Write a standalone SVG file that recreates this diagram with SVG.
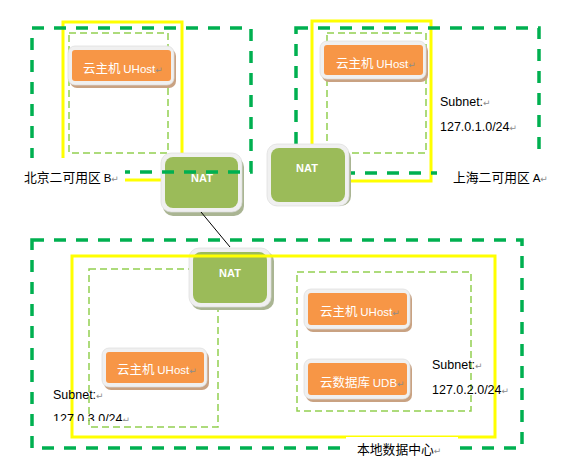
<svg xmlns="http://www.w3.org/2000/svg" width="569" height="457" viewBox="0 0 569 457">
<style>
.gz{fill:none;stroke:#00b050;stroke-width:3.5;stroke-dasharray:12 10}
.yl{fill:none;stroke:#ffff00;stroke-width:3}
.sn{fill:none;stroke:#92d050;stroke-width:1.5;stroke-dasharray:7 4}
.fr{fill:#f0f0f0;stroke:#dcdcdc;stroke-width:0.7}
.osh{fill:#c9a282}
.or{fill:#f79646}
.nsh{fill:#aab593}
.ng{fill:#9bbb59}
.ot{font-family:"Noto Sans CJK SC",sans-serif;font-size:12.5px;fill:#fff}
.en{font-family:"Liberation Sans",sans-serif;font-size:11.5px}
.pm{fill:#8c8c8c;font-family:"DejaVu Sans",sans-serif;font-size:9px}
.nt{font-family:"Liberation Sans",sans-serif;font-weight:bold;font-size:11px;fill:#fff;text-anchor:middle}
.sb{font-family:"Liberation Sans",sans-serif;font-size:12.5px;fill:#000}
.lb{font-family:"Noto Sans CJK SC",sans-serif;font-size:12.8px;fill:#000}
.wb{fill:#fff}
</style>
<defs>
<clipPath id="clipL"><rect x="40" y="405" width="120" height="16"/></clipPath>
</defs>
<rect width="569" height="457" fill="#fff"/>

<g id="zone-b-yellow"><rect class="yl" x="63" y="22" width="119" height="158"/></g>
<g id="zone-a-yellow"><rect class="yl" x="312" y="21" width="119" height="160"/></g>

<g id="subnet-b"><rect class="sn" x="69" y="33" width="99" height="120"/></g>
<g id="subnet-a"><rect class="sn" x="327" y="33" width="99" height="120"/></g>
<g id="subnet-3"><rect class="sn" x="89" y="269" width="129" height="158"/></g>
<g id="subnet-2"><rect class="sn" x="297" y="272" width="174" height="139"/></g>

<g id="uhost-b">
<rect class="osh" x="70" y="49" width="106" height="39" rx="7"/>
<rect class="fr" x="68" y="46" width="106" height="39" rx="7"/>
<rect class="or" x="72" y="50" width="99" height="31" rx="3"/>
<text class="ot" x="83" y="73">云主机 <tspan class="en">UHost</tspan><tspan class="pm">↵</tspan></text>
</g>
<g id="uhost-a">
<rect class="osh" x="322" y="44" width="106" height="38" rx="7"/>
<rect class="fr" x="320" y="41" width="106" height="38" rx="7"/>
<rect class="or" x="324" y="45" width="99" height="30" rx="3"/>
<text class="ot" x="336" y="68">云主机 <tspan class="en">UHost</tspan><tspan class="pm">↵</tspan></text>
</g>
<g id="uhost-3">
<rect class="osh" x="104" y="351" width="105" height="39" rx="7"/>
<rect class="fr" x="102" y="348" width="105" height="39" rx="7"/>
<rect class="or" x="106" y="352" width="98" height="31" rx="3"/>
<text class="ot" x="117" y="374">云主机 <tspan class="en">UHost</tspan><tspan class="pm">↵</tspan></text>
</g>
<g id="uhost-2">
<rect class="osh" x="306" y="292" width="106" height="40" rx="7"/>
<rect class="fr" x="304" y="289" width="106" height="40" rx="7"/>
<rect class="or" x="308" y="293" width="99" height="32" rx="3"/>
<text class="ot" x="320" y="316">云主机 <tspan class="en">UHost</tspan><tspan class="pm">↵</tspan></text>
</g>
<g id="udb-2">
<rect class="osh" x="306" y="362" width="106" height="40" rx="7"/>
<rect class="fr" x="304" y="359" width="106" height="40" rx="7"/>
<rect class="or" x="308" y="363" width="99" height="32" rx="3"/>
<text class="ot" x="320" y="387">云数据库 <tspan class="en">UDB</tspan><tspan class="pm">↵</tspan></text>
</g>

<g id="nat-b">
<rect class="nsh" x="163" y="157" width="81" height="59" rx="10"/>
<rect class="fr" x="161" y="153" width="81" height="59" rx="10"/>
<rect class="ng" x="165" y="157" width="73" height="51" rx="8"/>
<text class="nt" x="202" y="182">NAT</text>
</g>

<g id="zone-b"><rect class="gz" x="32" y="28" width="219" height="144"/></g>
<g id="zone-a"><rect class="gz" x="296" y="28" width="243" height="145"/></g>
<g id="zone-dc"><rect class="gz" x="32" y="240" width="490" height="208"/></g>

<g id="label-b">
<rect class="wb" x="18" y="158" width="107" height="30"/>
<text class="lb" x="24" y="182">北京二可用区 <tspan class="en" style="font-size:11.5px">B</tspan><tspan class="pm">↵</tspan></text>
</g>
<g id="label-a">
<rect class="wb" x="437" y="151" width="120" height="36"/>
<text class="lb" x="453" y="182">上海二可用区 <tspan class="en" style="font-size:11.5px">A</tspan><tspan class="pm">↵</tspan></text>
</g>
<g id="subnet-a-label">
<text class="sb" x="440" y="106">Subnet:<tspan class="pm">↵</tspan></text>
<text class="sb" x="440" y="131">127.0.1.0/24<tspan class="pm">↵</tspan></text>
</g>

<g id="nat-a">
<rect class="nsh" x="269" y="148" width="82" height="58" rx="10"/>
<rect class="fr" x="267" y="144" width="82" height="62" rx="10"/>
<rect class="ng" x="271" y="148" width="74" height="54" rx="8"/>
<text class="nt" x="307" y="172">NAT</text>
</g>

<g id="nat-dc">
<rect class="nsh" x="191" y="251" width="83" height="59" rx="10"/>
<rect class="fr" x="189" y="248" width="82" height="59" rx="10"/>
<rect class="ng" x="193" y="252" width="74" height="51" rx="8"/>
<text class="nt" x="230" y="277">NAT</text>
</g>

<g id="zone-dc-yellow"><rect class="yl" x="72" y="256" width="423" height="181"/></g>

<g id="subnet-2-label">
<text class="sb" x="432" y="369">Subnet:<tspan class="pm">↵</tspan></text>
<text class="sb" x="432" y="394">127.0.2.0/24<tspan class="pm">↵</tspan></text>
</g>
<g id="subnet-3-label">
<text class="sb" x="53" y="399">Subnet:<tspan class="pm">↵</tspan></text>
<text class="sb" x="53" y="423" clip-path="url(#clipL)">127.0.3.0/24<tspan class="pm">↵</tspan></text>
</g>
<g id="label-dc">
<rect class="wb" x="346" y="437" width="112" height="20"/>
<text class="lb" x="357" y="454">本地数据中心<tspan class="pm">↵</tspan></text>
</g>

<g id="connectors">
<line x1="201" y1="212" x2="230" y2="247" stroke="#000" stroke-width="1"/>
</g>
</svg>
